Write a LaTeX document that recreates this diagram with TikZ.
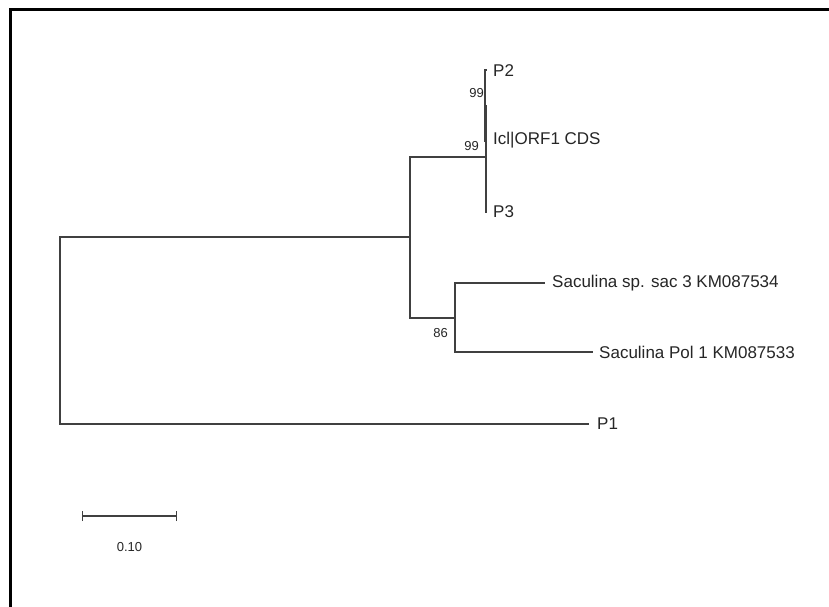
\documentclass[tikz,border=0pt]{standalone}
\usepackage{fontspec}
\setmainfont{Liberation Sans}
\usetikzlibrary{positioning}
\tikzset{
  branch/.style={draw=black!75, line width=1.1pt},
  taxon/.style={anchor=west, inner sep=0pt, font=\fontsize{17}{20}\selectfont, text=black!85},
  boot/.style={anchor=east, inner sep=0pt, font=\fontsize{13}{15}\selectfont, text=black!85},
  frameline/.style={draw=black, line width=2.7pt}
}
\begin{document}
\begin{tikzpicture}[x=1pt, y=-1pt]
  \useasboundingbox (0,0) rectangle (829,607);
  \fill[white] (0,0) rectangle (829,607);
  \draw[frameline] (10.3,607) -- (10.3,9.7) -- (829,9.7);

  % inner nodes
  \coordinate (root) at (60,330.5);
  \coordinate (n1) at (410,237);
  \coordinate (n2) at (486,157);
  \coordinate (n3) at (485,105.5);
  \coordinate (n4) at (455,318);

  % tips
  \coordinate (tP2) at (486.5,70);
  \coordinate (tIcl) at (486.5,141);
  \coordinate (tP3) at (486.5,212);
  \coordinate (tSac) at (545,283);
  \coordinate (tPol) at (593,352);
  \coordinate (tP1) at (589,424);

  \draw[branch] (root) |- (n1);
  \draw[branch] (root) |- (tP1);
  \draw[branch] (n1) |- (n2);
  \draw[branch] (n1) |- (n4);
  \draw[branch] (n2) |- (n3);
  \draw[branch] (n2) |- (tP3);
  \draw[branch] (n3) |- (tP2);
  \draw[branch] (n3) |- (tIcl);
  \draw[branch] (n4) |- (tSac);
  \draw[branch] (n4) |- (tPol);

  \node[taxon] (lP2) at (493,70.5) {P2};
  \node[taxon] (lIcl) at (493,140.5) {Icl|ORF1 CDS};
  \node[taxon] (lP3) at (493,212) {P3};
  \node[taxon] (lSac) at (552,283) {Saculina sp. sac 3 KM087534};
  \node[taxon] (lPol) at (599,352) {Saculina Pol 1 KM087533};
  \node[taxon] (lP1) at (597,424) {P1};

  % bootstrap values
  \node[boot] (b1) at (484,93.5) {99};
  \node[boot] (b2) at (479,146) {99};
  \node[boot] (b3) at (448,333) {86};

  % scale bar
  \coordinate (sa) at (82.5,516);
  \coordinate (sb) at (176.5,516);
  \draw[branch] (sa) -- (sb);
  \draw[branch] ([yshift=-5]sa) -- ([yshift=5]sa);
  \draw[branch] ([yshift=-5]sb) -- ([yshift=5]sb);
  \node[font=\fontsize{13}{15}\selectfont, text=black!85, inner sep=0pt] (scl) at (129.5,547) {0.10};
\end{tikzpicture}
\end{document}
